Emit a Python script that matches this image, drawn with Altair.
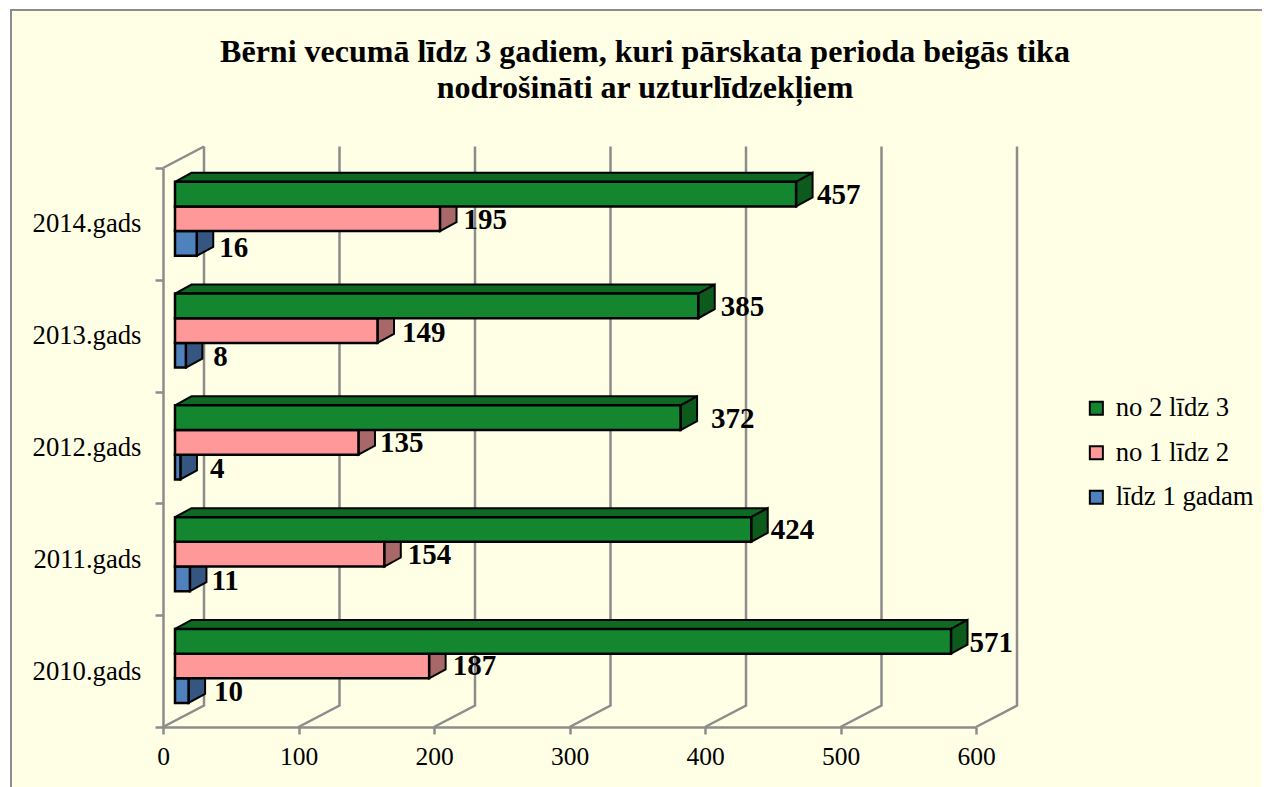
import altair as alt
import pandas as pd

years = ["2010.gads", "2011.gads", "2012.gads", "2013.gads", "2014.gads"]
series = ["līdz 1 gadam", "no 1 līdz 2", "no 2 līdz 3"]
v_blue = [10, 11, 4, 8, 16]
v_pink = [187, 154, 135, 149, 195]
v_green = [571, 424, 372, 385, 457]
x_ticks = [0, 100, 200, 300, 400, 500, 600]
front_colors = ["#4F81BD", "#FF9999", "#14862F"]
side_colors = ["#345680", "#A86868", "#0C5A1C"]
top_color = "#0E6A22"
grid_color = "#8C8C8C"
paper = "#FFFFE5"
serif = "Liberation Serif"
title_lines = "Bērni vecumā līdz 3 gadiem, kuri pārskata perioda beigās tika\nnodrošināti ar uzturlīdzekļiem"

# label nudges in pixels (gap from the bar's back corner, shift from bar centre)
gap_blue = [9, 5, 13, 11, 6]
gap_pink = [7, 7, 5, 8, 7]
gap_green = [2, 3, 14, 6, 4.5]
lift_blue = [-1, -2, -2, -2, -4.5]
lift_pink = [0, -1, -1, -2, -1]
lift_green = [-2, 0, -1, -1, -1]

W, H = 813, 559
PXX = W / 600
PXY = H / 5
x_plane, y_plane = 12 / PXX, 0.2147
bar_h = 0.2207
dx, dy = 16.5 / PXX, 9 / PXY
wall_dx, wall_dy = 41 / PXX, 21.5 / PXY
stretch = 1.003

values = [v_blue, v_pink, v_green]
gaps = [gap_blue, gap_pink, gap_green]
lifts = [lift_blue, lift_pink, lift_green]

fronts, sides, tops, labels = [], [], [], []
for s, name in enumerate(series):
    for i, year in enumerate(years):
        v = values[s][i]
        x0 = x_plane
        x1 = x_plane + v * stretch
        y0 = i + y_plane + s * bar_h
        y1 = y0 + bar_h
        fronts.append(dict(series=name, x0=x0, x1=x1, y0=y0, y1=y1, value=v))
        pid = f"{s}-{i}"
        sides.append(dict(id=pid, fill=side_colors[s], s=s, x=x1, y=y0, y2=y1))
        sides.append(dict(id=pid, fill=side_colors[s], s=s, x=x1 + dx, y=y0 + dy, y2=y1 + dy))
        labels.append(dict(
            x=x1 + dx + gaps[s][i] / PXX,
            y=(y0 + y1) / 2 + lifts[s][i] / PXY,
            text=str(v),
        ))
        if s == 2:
            pid = f"t{i}"
            tops.append(dict(id=pid, x=x0, y=y1, y2=y1))
            tops.append(dict(id=pid, x=x0 + dx, y=y1, y2=y1 + dy))
            tops.append(dict(id=pid, x=x1, y=y1, y2=y1 + dy))
            tops.append(dict(id=pid, x=x1 + dx, y=y1 + dy, y2=y1 + dy))

grid = []
for k in x_ticks:
    grid.append(dict(k=k, o=0, x=k, y=0))
    grid.append(dict(k=k, o=1, x=k + wall_dx, y=wall_dy))
    grid.append(dict(k=k, o=2, x=k + wall_dx, y=5 + wall_dy))
grid.append(dict(k=-1, o=0, x=0, y=5))
grid.append(dict(k=-1, o=1, x=wall_dx, y=5 + wall_dy))

x_scale = alt.Scale(domain=[0, 600], range=[0, W], nice=False, zero=False)
y_scale = alt.Scale(domain=[0, 5], range=[H, 0], nice=False, zero=False)

label_expr = "{'0.5':'2010.gads','1.5':'2011.gads','2.5':'2012.gads','3.5':'2013.gads','4.5':'2014.gads'}[''+datum.value] || ''"

x_axis = alt.Axis(
    values=x_ticks, title=None, grid=False, domainColor=grid_color, domainWidth=2.5,
    tickColor=grid_color, tickWidth=2.5, tickSize=7, labelFont=serif, labelFontSize=25.5,
    labelColor="black", labelPadding=10, labelFlush=False, labelOverlap=False, zindex=1,
)
y_axis = alt.Axis(
    values=[0, 0.5, 1, 1.5, 2, 2.5, 3, 3.5, 4, 4.5, 5], title=None, grid=False,
    domainColor=grid_color, domainWidth=2.5, tickColor=grid_color, tickWidth=2.5, tickSize=8,
    tickOpacity={"condition": {"test": "datum.value % 1 == 0", "value": 1}, "value": 0},
    labelExpr=label_expr, labelFont=serif, labelFontSize=26.7, labelColor="black",
    labelPadding=14, labelFlush=False, labelOverlap=False, zindex=1,
)

frame = alt.Chart(pd.DataFrame({"a": [0]})).mark_rect(
    fill=paper, stroke=grid_color, strokeWidth=2
).encode(
    x=alt.value(-152), x2=alt.value(1300), y=alt.value(-158), y2=alt.value(800)
)

title_text = alt.Chart(pd.DataFrame({"t": [title_lines]})).mark_text(
    align="center", baseline="top", font=serif, fontSize=32, fontWeight="bold",
    color="black", lineBreak="\n", lineHeight=36,
).encode(
    x=alt.value(482), y=alt.value(-131), text="t:N"
)

grid_lines = alt.Chart(pd.DataFrame(grid)).mark_line(
    color=grid_color, strokeWidth=2.5, strokeJoin="miter"
).encode(
    x=alt.X("x:Q", scale=x_scale, axis=x_axis),
    y=alt.Y("y:Q", scale=y_scale, axis=y_axis),
    order="o:Q",
    detail="k:N",
)

top_faces = alt.Chart(pd.DataFrame(tops)).mark_area(
    orient="vertical", fill=top_color, stroke="black", strokeWidth=2
).encode(
    x=alt.X("x:Q", scale=x_scale),
    y=alt.Y("y:Q", scale=y_scale),
    y2="y2:Q",
    detail="id:N",
)

side_faces = alt.Chart(pd.DataFrame(sides)).mark_area(
    orient="vertical", stroke="black", strokeWidth=2
).encode(
    x=alt.X("x:Q", scale=x_scale),
    y=alt.Y("y:Q", scale=y_scale),
    y2="y2:Q",
    fill=alt.Fill("fill:N", scale=None),
    detail="id:N",
)

front_faces = alt.Chart(pd.DataFrame(fronts)).mark_bar(
    stroke="black", strokeWidth=2.5
).encode(
    x=alt.X("x0:Q", scale=x_scale),
    x2="x1:Q",
    y=alt.Y("y0:Q", scale=y_scale),
    y2="y1:Q",
    color=alt.Color(
        "series:N",
        scale=alt.Scale(domain=series[::-1], range=front_colors[::-1]),
        sort=series[::-1],
        legend=alt.Legend(
            title=None, orient="none", legendX=920, legendY=227,
            symbolType="square", symbolSize=170, symbolStrokeColor="black",
            symbolStrokeWidth=2, symbolOpacity=1, labelFont=serif, labelFontSize=26.7,
            labelColor="black", rowPadding=16.5, labelOffset=6, labelLimit=300,
        ),
    ),
)

text_labels = alt.Chart(pd.DataFrame(labels)).mark_text(
    align="left", baseline="middle", font=serif, fontSize=29, fontWeight="bold", color="black"
).encode(
    x=alt.X("x:Q", scale=x_scale),
    y=alt.Y("y:Q", scale=y_scale),
    text="text:N",
)

chart = alt.layer(frame, title_text, grid_lines, top_faces, side_faces, front_faces, text_labels).properties(
    width=W,
    height=H,
    padding={"left": 155, "top": 160, "right": 286, "bottom": 60},
    autosize=alt.AutoSizeParams(type="none"),
    background="white",
).configure_view(stroke=None)

chart.save("out.html", embed_options={"renderer": "svg", "actions": False})
